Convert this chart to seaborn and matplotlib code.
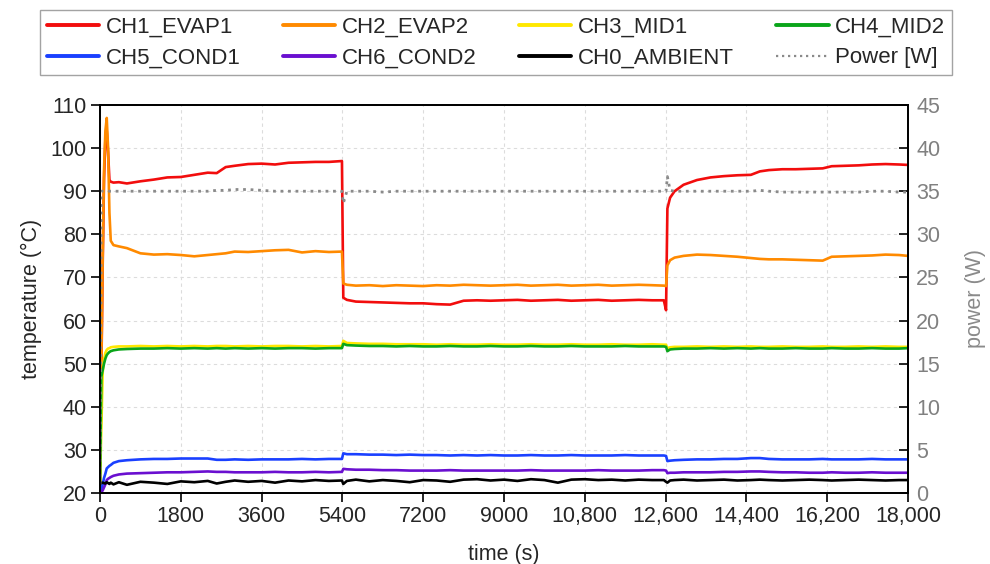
import numpy as np
import pandas as pd
import matplotlib
matplotlib.use("Agg")
import matplotlib.pyplot as plt
import seaborn as sns

# ---------------- data ----------------
time_s = [
    0, 30, 60, 90, 120, 150, 180, 210, 240, 300, 420, 600, 900, 1200, 1500, 1800, 2100, 2400,
    2600, 2800, 3000, 3300, 3600, 3900, 4200, 4500, 4800, 5100, 5390,
    5420, 5500, 5700, 6000, 6300, 6600, 6900, 7200, 7500, 7800, 8100, 8400, 8700, 9000, 9300,
    9600, 9900, 10200, 10500, 10800, 11100, 11400, 11700, 12000, 12300, 12560, 12610,
    12640, 12700, 12800, 13000, 13300, 13600, 13900, 14200, 14500, 14700, 14900, 15200, 15500,
    15800, 16100, 16300, 16600, 16900, 17200, 17500, 17800, 18000,
]

ch1_evap1 = [
    22, 48, 73, 93, 102, 104, 99, 92.6, 92.2, 92.0, 92.1, 91.8, 92.3, 92.7, 93.2, 93.3, 93.8, 94.3,
    94.2, 95.6, 95.9, 96.3, 96.4, 96.2, 96.6, 96.7, 96.8, 96.8, 97.0,
    65.3, 64.8, 64.4, 64.3, 64.2, 64.1, 64.0, 64.0, 63.8, 63.7, 64.6, 64.7, 64.6, 64.7, 64.8,
    64.6, 64.7, 64.8, 64.6, 64.7, 64.8, 64.6, 64.7, 64.8, 64.7, 64.7, 62.4,
    86.0, 88.5, 90.0, 91.5, 92.6, 93.2, 93.5, 93.7, 93.8, 94.6, 94.9, 95.1, 95.1,
    95.2, 95.3, 95.8, 95.9, 96.0, 96.2, 96.3, 96.2, 96.1,
]
ch2_evap2 = [
    22, 50, 75, 95, 104, 107, 100, 85, 78.5, 77.5, 77.2, 76.8, 75.6, 75.3, 75.4, 75.2, 74.9, 75.2,
    75.4, 75.6, 76.0, 75.9, 76.1, 76.3, 76.4, 75.8, 76.1, 75.9, 76.0,
    68.6, 68.3, 68.1, 68.2, 68.0, 68.2, 68.1, 68.0, 68.2, 68.1, 68.3, 68.2, 68.1, 68.2, 68.3,
    68.1, 68.2, 68.3, 68.1, 68.2, 68.3, 68.1, 68.2, 68.3, 68.2, 68.1, 68.0,
    72.8, 74.0, 74.6, 75.0, 75.3, 75.2, 75.0, 74.8, 74.5, 74.3, 74.2, 74.2, 74.1,
    74.0, 73.9, 74.8, 74.9, 75.0, 75.1, 75.3, 75.2, 75.0,
]
ch3_mid1 = [
    22, 35, 48, 51, 52.5, 53.2, 53.5, 53.6, 53.8, 53.9, 54.0, 54.0, 54.1, 54.0, 54.1, 54.0, 54.1, 54.0,
    54.1, 54.1, 54.0, 54.1, 54.0, 54.1, 54.1, 54.0, 54.1, 54.0, 54.1,
    55.3, 54.8, 54.7, 54.6, 54.6, 54.5, 54.5, 54.5, 54.4, 54.5, 54.4, 54.4, 54.5, 54.4, 54.4,
    54.5, 54.4, 54.4, 54.5, 54.4, 54.4, 54.5, 54.4, 54.4, 54.5, 54.4, 54.4,
    53.6, 53.8, 53.9, 53.9, 54.0, 53.9, 54.0, 53.9, 54.0, 53.9, 53.9, 54.0, 53.9,
    53.9, 54.0, 53.9, 53.9, 54.0, 53.9, 54.0, 53.9, 53.9,
]
ch4_mid2 = [
    22, 47, 48.5, 50, 51.2, 52, 52.4, 52.7, 52.9, 53.1, 53.3, 53.4, 53.5, 53.5, 53.6, 53.5, 53.6, 53.5,
    53.6, 53.5, 53.6, 53.5, 53.6, 53.5, 53.6, 53.6, 53.5, 53.6, 53.6,
    54.6, 54.3, 54.2, 54.1, 54.1, 54.0, 54.1, 54.0, 54.0, 54.1, 54.0, 54.0, 54.1, 54.0, 54.0,
    54.1, 54.0, 54.0, 54.1, 54.0, 54.0, 54.0, 54.1, 54.0, 54.0, 54.0, 53.9,
    52.9, 53.3, 53.4, 53.5, 53.5, 53.6, 53.5, 53.6, 53.5, 53.6, 53.5, 53.5, 53.6,
    53.5, 53.5, 53.6, 53.5, 53.5, 53.6, 53.5, 53.5, 53.6,
]
ch5_cond1 = [
    20, 21, 22, 23.5, 24.5, 25.7, 26.0, 26.3, 26.5, 27.0, 27.4, 27.6, 27.8, 27.9, 27.9, 28.0, 28.0, 28.0,
    27.7, 27.7, 27.8, 27.7, 27.8, 27.8, 27.8, 27.9, 27.8, 27.9, 27.9,
    29.2, 29.0, 29.0, 28.9, 28.9, 28.8, 28.9, 28.8, 28.8, 28.7, 28.8, 28.7, 28.8, 28.7, 28.7,
    28.8, 28.7, 28.7, 28.8, 28.7, 28.7, 28.7, 28.8, 28.7, 28.7, 28.7, 28.6,
    27.4, 27.5, 27.6, 27.7, 27.8, 27.8, 27.9, 27.9, 28.1, 28.1, 27.9, 27.8, 27.8,
    27.8, 27.9, 27.8, 27.8, 27.8, 27.9, 27.8, 27.8, 27.8,
]
ch6_cond2 = [
    20, 20.2, 20.6, 21.3, 22.0, 23.0, 23.3, 23.5, 23.7, 24.0, 24.3, 24.5, 24.6, 24.7, 24.8, 24.8, 24.9, 25.0,
    24.9, 24.9, 24.8, 24.8, 24.8, 24.9, 24.8, 24.8, 24.9, 24.8, 24.9,
    25.6, 25.5, 25.4, 25.4, 25.3, 25.3, 25.2, 25.2, 25.2, 25.3, 25.2, 25.2, 25.2, 25.2, 25.2,
    25.3, 25.2, 25.2, 25.2, 25.2, 25.3, 25.2, 25.2, 25.2, 25.3, 25.3, 25.2,
    24.6, 24.7, 24.7, 24.8, 24.8, 24.8, 24.9, 24.9, 25.0, 25.0, 24.9, 24.8, 24.8,
    24.7, 24.7, 24.8, 24.7, 24.7, 24.8, 24.7, 24.7, 24.7,
]
ch0_ambient = [
    22.2, 22.3, 22.4, 22.3, 22.2, 22.5, 22.3, 22.1, 22.4, 22.0, 22.5, 21.9, 22.6, 22.4, 22.1, 22.7, 22.5, 22.8,
    22.2, 22.6, 22.9, 22.6, 22.8, 22.4, 22.9, 22.7, 23.0, 22.8, 22.9,
    22.1, 22.8, 23.1, 22.7, 23.0, 22.8, 22.5, 23.0, 22.9, 22.6, 23.1, 23.2, 22.9, 23.1, 22.8,
    23.2, 23.0, 22.4, 23.1, 23.2, 23.0, 23.1, 22.9, 23.1, 23.0, 23.0, 22.6,
    22.4, 22.9, 23.0, 23.1, 22.9, 23.0, 23.1, 22.9, 23.0, 23.1, 23.0, 22.9, 23.0,
    23.1, 23.0, 22.9, 23.0, 23.1, 23.0, 22.9, 23.0, 23.0,
]
power_w = [
    1.0, 35.0, 35.0, 35.0, 35.0, 35.0, 35.0, 35.0, 35.0, 35.0, 35.0, 35.0, 35.0, 35.0, 35.0, 35.0, 35.0, 35.0,
    35.1, 35.1, 35.2, 35.2, 35.1, 35.0, 35.0, 35.0, 35.0, 35.0, 35.0,
    33.6, 35.0, 35.0, 35.0, 34.9, 35.0, 35.0, 35.0, 35.0, 35.0, 35.0, 35.0, 35.0, 35.0, 35.0,
    35.0, 35.0, 35.0, 35.0, 35.0, 35.0, 35.0, 35.0, 35.0, 35.0, 35.0, 35.0,
    36.7, 35.1, 35.0, 35.0, 35.0, 35.0, 35.0, 35.0, 35.0, 35.1, 35.0, 34.9, 34.9,
    34.9, 34.9, 34.9, 34.9, 34.9, 35.0, 35.0, 34.9, 34.9,
]

series_names = ["CH1_EVAP1", "CH2_EVAP2", "CH3_MID1", "CH4_MID2",
                "CH5_COND1", "CH6_COND2", "CH0_AMBIENT"]
series_values = [ch1_evap1, ch2_evap2, ch3_mid1, ch4_mid2, ch5_cond1, ch6_cond2, ch0_ambient]
series_colors = ["#f20d0d", "#ff8a00", "#ffe800", "#0aa51a", "#1a40ff", "#6a0fd0", "#000000"]
power_name = "Power [W]"

x_ticks = [0, 1800, 3600, 5400, 7200, 9000, 10800, 12600, 14400, 16200, 18000]
x_tick_labels = ["0", "1800", "3600", "5400", "7200", "9000", "10,800", "12,600",
                 "14,400", "16,200", "18,000"]
y_ticks = [20, 30, 40, 50, 60, 70, 80, 90, 100, 110]
y2_ticks = [0, 5, 10, 15, 20, 25, 30, 35, 40, 45]

# ---------------- style ----------------
sns.set_style("ticks")
plt.rcParams["font.family"] = ["Liberation Sans", "DejaVu Sans"]
plt.rcParams["axes.linewidth"] = 1.3

df = pd.DataFrame({"time": time_s, power_name: power_w})
for n, v in zip(series_names, series_values):
    df[n] = v

fig = plt.figure(figsize=(9.9, 5.64), dpi=100)
ax = fig.add_axes([100 / 990, 71 / 564, 808 / 990, 388 / 564])

for n, c in zip(series_names, series_colors):
    sns.lineplot(data=df, x="time", y=n, ax=ax, color=c, lw=1.9, label=n,
                 solid_joinstyle="round")

ax.set_xlim(0, 18000)
ax.set_ylim(20, 110)
ax.set_xticks(x_ticks)
ax.set_xticklabels(x_tick_labels)
ax.set_yticks(y_ticks)
ax.grid(True, color="#dcdcdc", lw=0.8, ls=(0, (3, 3)))
ax.tick_params(axis="both", labelsize=15.5, length=6.5, width=1.2, color="black",
               direction="out", pad=3)
ax.set_xlabel("time (s)", fontsize=15.5, labelpad=12)
ax.set_ylabel("temperature (°C)", fontsize=15.5, labelpad=6)
for s in ax.spines.values():
    s.set_visible(True)
    s.set_color("black")

ax2 = ax.twinx()
sns.lineplot(data=df, x="time", y=power_name, ax=ax2, color="#8a8a8a", lw=2.0,
             ls=(0, (1, 1.7)), label=power_name)
ax2.set_ylim(0, 45)
ax2.set_yticks(y2_ticks)
ax2.tick_params(axis="y", labelsize=15.5, length=6.5, width=1.2, color="black",
                labelcolor="#808080", direction="in", pad=6)
ax2.set_ylabel("power (W)", fontsize=15.5, color="#8a8a8a", labelpad=18)
ax2.set_xlabel("")
for s in ax2.spines.values():
    s.set_color("black")

h1, l1 = ax.get_legend_handles_labels()
h2, l2 = ax2.get_legend_handles_labels()
for a in (ax, ax2):
    if a.get_legend() is not None:
        a.get_legend().remove()

handles = h1 + h2
labels = l1 + l2
# legend is filled column by column; reorder so rows read CH1..CH4 / CH5, CH6, CH0, Power
order = [0, 4, 1, 5, 2, 6, 3, 7]
leg = fig.legend([handles[i] for i in order], [labels[i] for i in order], ncol=4,
                 loc="lower left",
                 bbox_to_anchor=(40 / 990, 1 - 75 / 564, 912 / 990, 63 / 564),
                 mode="expand", borderaxespad=0, fontsize=16, frameon=True,
                 fancybox=False, edgecolor="#8c8c8c", handlelength=2.35,
                 handletextpad=0.3, borderpad=0.3, labelspacing=0.45)
leg.get_frame().set_linewidth(1.0)
for lh, lab in zip(leg.get_lines(), [labels[i] for i in order]):
    if lab == power_name:
        lh.set_linewidth(1.6)
    else:
        lh.set_linewidth(2.8)

fig.savefig("out.png", dpi=100)
